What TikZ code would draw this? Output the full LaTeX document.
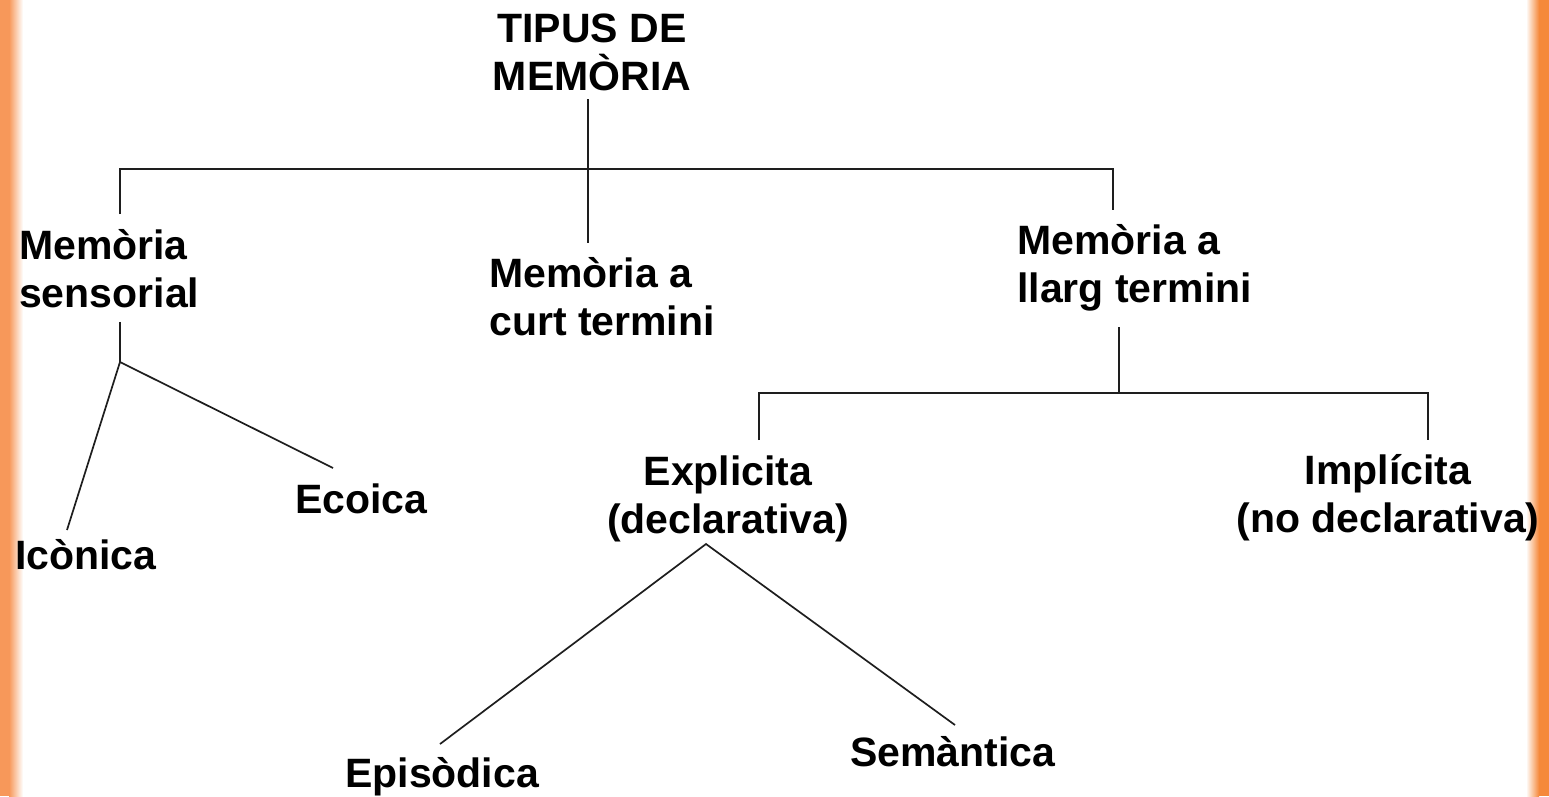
\documentclass[tikz,border=0pt]{standalone}
\usepackage{fontspec}
\setmainfont{Liberation Sans}
\definecolor{edgeL}{HTML}{F7985A}
\definecolor{edgeR}{HTML}{F5893B}
\definecolor{ink}{HTML}{1E1E1E}
\tikzset{
    label/.style ={
        inner sep=0pt,
        font=\bfseries\fontsize{41}{48}\selectfont,
        text=black
    },
    lft/.style ={label, align=left, anchor=north west},
    ctr/.style ={label, align=center, anchor=north},
    link/.style ={draw=ink, line width=1.7pt}
}
\begin{document}
\begin{tikzpicture}[x=1pt,y=-1pt]
    \useasboundingbox (0,0) rectangle (1549,796);
    % orange side bands
    \fill[edgeL] (0,0) rectangle (9,796);
    \shade[left color=edgeL, right color=white] (9,0) rectangle (23,796);
    \shade[left color=white, right color=edgeR] (1526,0) rectangle (1539,796);
    \fill[edgeR] (1539,0) rectangle (1549,796);

    \node[ctr] (title) at (592,14) {TIPUS DE\\MEMÒRIA};
    \node[lft] (sens) at (19,229) {Memòria\\sensorial};
    \node[lft] (curt) at (489,257) {Memòria a\\curt termini};
    \node[lft] (llarg) at (1017,224) {Memòria a\\llarg termini};
    \node[lft] (iconica) at (15,539) {Icònica};
    \node[lft] (ecoica) at (295,484) {Ecoica};
    \node[ctr] (expl) at (728,456) {Explicita\\(declarativa)};
    \node[ctr] (impl) at (1388,454) {Implícita\\(no declarativa)};
    \node[lft] (episodica) at (345,757) {Episòdica};
    \node[lft] (semantica) at (850,736) {Semàntica};

    \coordinate (mem) at (588,169);
    \coordinate (lt) at (120,169);
    \coordinate (rt) at (1113,169);
    \coordinate (sensj) at (120,362);
    \coordinate (llargj) at (1119,393);
    \coordinate (el) at (759,393);
    \coordinate (er) at (1428,393);
    \coordinate (explj) at (706,544);
    \coordinate (ic) at (67,530);
    \coordinate (ec) at (333,468);
    \coordinate (ep) at (440,744);
    \coordinate (se) at (955,725);

    \draw[link, shorten <=8pt, shorten >=14pt] (title.south -| mem) -- (curt.north -| mem);
    \draw[link] (sens.north -| lt) ++(0,-15) |- (mem) -| ([yshift=14pt]llarg.north -| rt);
    \draw[link, shorten <=14pt] (sens.south -| sensj) -- (sensj);
    \draw[link] (ic) -- (sensj) -- (ec);
    \draw[link, shorten <=16pt] (llarg.south -| llargj) -- (llargj);
    \draw[link] (el) ++(0,47) -- (el) -- (er) -- ++(0,47);
    \draw[link] (ep) -- (explj) -- (se);
\end{tikzpicture}
\end{document}
